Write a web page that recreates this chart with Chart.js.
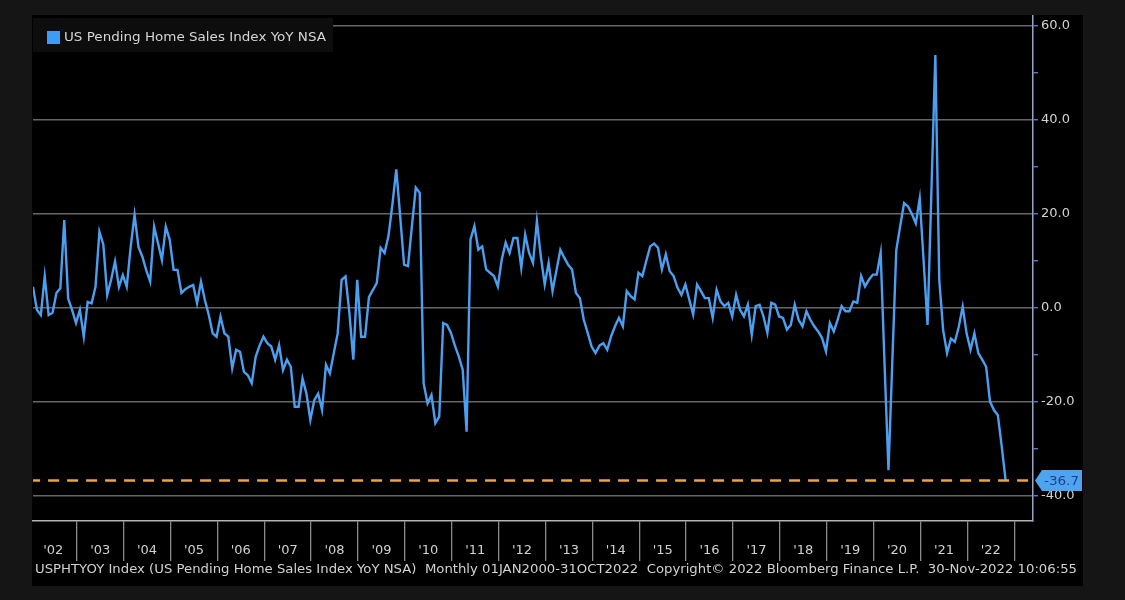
<!DOCTYPE html>
<html>
<head>
<meta charset="utf-8">
<title>US Pending Home Sales Index YoY NSA</title>
<script src="https://cdn.jsdelivr.net/npm/chart.js@4.4.1/dist/chart.umd.min.js"></script>
<style>
    html, body { margin: 0; padding: 0; background: #151515; }
    #wrap { width: 1125px; height: 600px; position: relative; }
</style>
</head>
<body>
<div id="wrap"><canvas id="pendingChart" width="1125" height="600"></canvas></div>
<script>
// Monthly YoY % change, Jan 2002 .. Oct 2022
const startYear = 2002;
const monthlyYoY = [
    4.5, -0.4, -1.5, 6.7, -1.5, -1.0, 3.2, 4.2, 18.7, 2.0, -0.4, -3.2,          // 2002
    -0.4, -6.1, 1.3, 1.0, 4.5, 16.2, 13.5, 2.8, 6.0, 9.9, 4.5, 7.0,             // 2003
    4.5, 13.0, 19.8, 13.0, 10.9, 8.0, 5.6, 17.3, 13.8, 10.2, 17.3, 14.5,        // 2004
    8.1, 8.1, 3.2, 4.0, 4.5, 4.9, 1.0, 5.6, 1.7, -1.5, -5.4, -6.1,              // 2005
    -1.8, -5.4, -6.1, -12.8, -8.9, -9.3, -13.6, -14.3, -16.0, -10.4, -8.0, -6.1, // 2006
    -7.5, -8.2, -11.0, -7.9, -13.2, -11.0, -12.5, -21.0, -21.0, -15.0, -18.2, -23.8, // 2007
    -19.6, -18.2, -21.7, -12.1, -13.9, -9.6, -5.4, 6.0, 6.7, -1.1, -11.0, 6.0,  // 2008
    -6.1, -6.1, 2.3, 3.8, 5.3, 12.8, 11.7, 15.3, 22.0, 29.5, 19.5, 9.2,         // 2009
    8.9, 17.4, 25.6, 24.5, -16.0, -20.3, -18.5, -24.5, -23.1, -3.2, -3.6, -5.3, // 2010
    -8.0, -10.3, -13.1, -26.3, 14.6, 17.4, 12.4, 13.1, 8.2, 7.5, 6.8, 4.6,      // 2011
    10.3, 13.9, 11.7, 14.9, 14.9, 8.5, 15.6, 11.7, 9.6, 18.5, 11.0, 5.0,        // 2012
    9.6, 3.6, 8.0, 12.4, 10.7, 9.2, 8.2, 3.2, 2.1, -2.5, -5.3, -8.2,            // 2013
    -9.6, -8.0, -7.5, -8.9, -6.0, -3.9, -2.1, -3.9, 3.6, 2.5, 1.8, 7.5,         // 2014
    6.8, 10.0, 13.1, 13.7, 12.8, 8.2, 11.4, 7.8, 6.8, 4.3, 2.8, 5.0,            // 2015
    1.8, -1.4, 5.0, 3.6, 2.1, 2.1, -2.1, 3.9, 1.4, 0.4, 1.1, -1.8,              // 2016
    2.8, -0.4, -1.8, 0.7, -5.7, 0.4, 0.7, -1.8, -5.3, 1.1, 0.7, -1.8,           // 2017
    -2.1, -4.6, -3.6, 0.7, -2.5, -3.9, -0.7, -2.5, -3.9, -5.0, -6.4, -9.2,      // 2018
    -3.2, -5.0, -2.5, 0.4, -0.7, -0.7, 1.4, 1.1, 6.8, 4.6, 6.0, 7.1,            // 2019
    7.1, 11.7, -12.0, -34.5, -11.0, 12.3, 17.4, 22.3, 21.6, 20.0, 18.0, 23.3,   // 2020
    10.0, -3.6, 25.0, 53.8, 6.0, -4.7, -9.6, -6.5, -7.2, -4.0, 0.3, -5.4,       // 2021
    -8.9, -5.4, -9.6, -11.0, -12.5, -19.9, -21.7, -22.8, -29.5, -36.7           // 2022
];
const yearLabels = ["'02", "'03", "'04", "'05", "'06", "'07", "'08", "'09", "'10", "'11", "'12",
    "'13", "'14", "'15", "'16", "'17", "'18", "'19", "'20", "'21", "'22"];
const yTickValues = [-40, -30, -20, -10, 0, 10, 20, 30, 40, 50, 60];
const lastValue = -36.7;
const seriesName = 'US Pending Home Sales Index YoY NSA';
const footerText = 'USPHTYOY Index (US Pending Home Sales Index YoY NSA)  Monthly 01JAN2000-31OCT2022  Copyright\u00A9 2022 Bloomberg Finance L.P.  30-Nov-2022 10:06:55';

const FONT = '"DejaVu Sans", "Liberation Sans", sans-serif';
const LINE_BLUE = '#4b9ff0';

// draw text squeezed/stretched to a given width
function fitText(ctx, text, x, y, width) {
    const w = ctx.measureText(text).width;
    ctx.save();
    ctx.translate(x, y);
    ctx.scale(width / w, 1);
    ctx.fillText(text, 0, 0);
    ctx.restore();
}

// month index -> year boundary position (separators sit just before January)
const yearStart = k => k * 12 - 0.8;

const seriesPoints = monthlyYoY.map((v, i) => ({ x: i, y: v }));

const terminalBg = {
    id: 'terminalBg',
    beforeDraw(chart) {
        const ctx = chart.ctx;
        ctx.save();
        ctx.fillStyle = '#000';
        ctx.fillRect(32, 15, 1051, 571);
        ctx.restore();
    }
};

const overlays = {
    id: 'overlays',
    afterDraw(chart) {
        const ctx = chart.ctx;
        const xs = chart.scales.x;
        const ys = chart.scales.y;
        const area = chart.chartArea;
        ctx.save();

        // legend box
        ctx.fillStyle = '#0d0d0d';
        ctx.fillRect(area.left, 18, 300, 34);
        ctx.fillStyle = '#3d9cf5';
        ctx.fillRect(47, 31, 13, 13);
        ctx.fillStyle = '#d6d6d6';
        ctx.font = '13px ' + FONT;
        ctx.textBaseline = 'middle';
        fitText(ctx, seriesName, 64, 38, 262);

        // year labels between separators
        ctx.fillStyle = '#d0d0d0';
        ctx.font = '13px ' + FONT;
        ctx.textAlign = 'center';
        yearLabels.forEach((lbl, k) => {
            const mid = (xs.getPixelForValue(yearStart(k)) + xs.getPixelForValue(yearStart(k + 1))) / 2;
            ctx.fillText(lbl, mid, 551);
        });

        // footer
        ctx.textAlign = 'left';
        ctx.fillStyle = '#d2d2d2';
        ctx.font = '12.5px ' + FONT;
        fitText(ctx, footerText, 35, 570, 1042);

        // last value tag on the axis
        const yy = ys.getPixelForValue(lastValue);
        const x0 = area.right + 2;
        ctx.fillStyle = '#4ea4ee';
        ctx.beginPath();
        ctx.moveTo(x0, yy);
        ctx.lineTo(x0 + 7, yy - 10.5);
        ctx.lineTo(x0 + 47, yy - 10.5);
        ctx.lineTo(x0 + 47, yy + 10.5);
        ctx.lineTo(x0 + 7, yy + 10.5);
        ctx.closePath();
        ctx.fill();
        ctx.fillStyle = '#1d3f8c';
        ctx.font = '13px ' + FONT;
        ctx.textAlign = 'left';
        fitText(ctx, lastValue.toFixed(1), x0 + 9, yy + 1, 35);
        ctx.restore();
    }
};

new Chart(document.getElementById('pendingChart'), {
    type: 'line',
    data: {
        datasets: [
            {
                label: seriesName,
                data: seriesPoints,
                borderColor: LINE_BLUE,
                borderWidth: 2.4,
                pointRadius: 0,
                tension: 0,
                order: 1
            },
            {
                label: 'Last value',
                data: [{ x: -1, y: lastValue }, { x: 260, y: lastValue }],
                borderColor: '#f0a43a',
                borderWidth: 2.5,
                borderDash: [11, 8],
                pointRadius: 0,
                order: 0
            }
        ]
    },
    options: {
        responsive: false,
        animation: false,
        layout: { padding: { left: 33, top: 16, right: 40, bottom: 0 } },
        plugins: {
            legend: { display: false },
            tooltip: { enabled: false }
        },
        scales: {
            x: {
                type: 'linear',
                min: 0,
                max: 256,
                afterBuildTicks: scale => {
                    scale.ticks = yearLabels.map((_, k) => ({ value: yearStart(k + 1) }));
                },
                afterFit: scale => { scale.height = 79; },
                ticks: { display: false },
                grid: {
                    drawOnChartArea: false,
                    drawTicks: true,
                    tickLength: 40,
                    tickColor: '#8a8a8a',
                    lineWidth: 1.3
                },
                border: { display: true, color: '#b4b4b4', width: 1.6 }
            },
            y: {
                type: 'linear',
                position: 'right',
                min: -45.3,
                max: 62.1,
                afterBuildTicks: scale => {
                    scale.ticks = yTickValues.map(v => ({ value: v }));
                },
                afterFit: scale => { scale.width = 52; },
                ticks: {
                    color: '#d2d2d2',
                    font: { family: FONT, size: 13 },
                    padding: 3,
                    callback: v => (v % 20 === 0 ? v.toFixed(1) : '')
                },
                grid: {
                    color: c => (c.tick && c.tick.value % 20 === 0 ? '#666666' : 'rgba(0,0,0,0)'),
                    lineWidth: 1.4,
                    tickColor: '#4f7bd9',
                    tickLength: 5
                },
                border: { display: true, color: '#9aa5c6', width: 1.5 }
            }
        }
    },
    plugins: [terminalBg, overlays]
});
</script>
</body>
</html>
